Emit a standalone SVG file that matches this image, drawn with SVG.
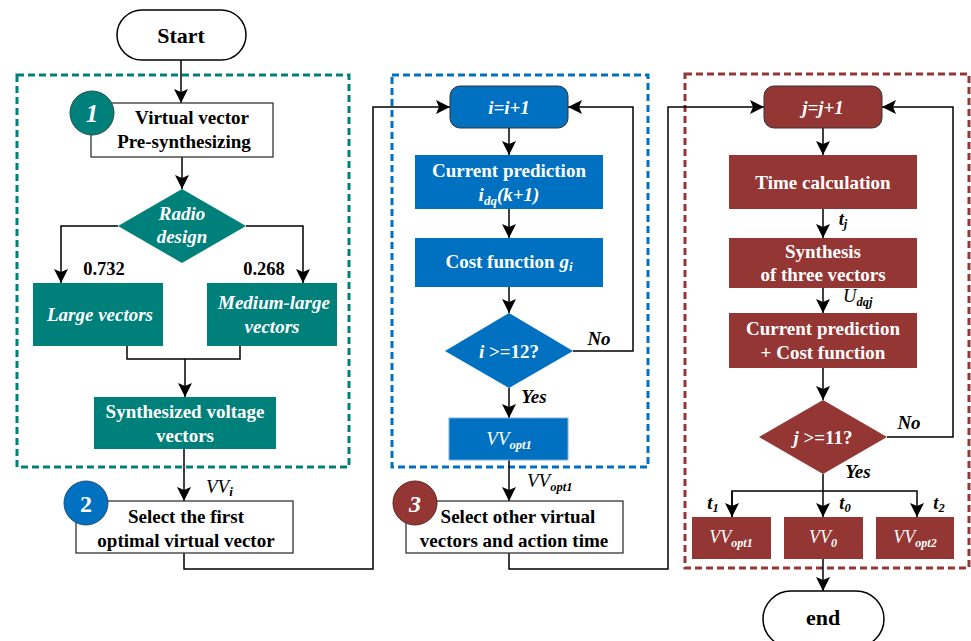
<svg xmlns="http://www.w3.org/2000/svg" width="971" height="641" viewBox="0 0 971 641">
<defs>
<marker id="ah" markerUnits="userSpaceOnUse" markerWidth="16" markerHeight="16" refX="14" refY="7" orient="auto">
<path d="M0,0 L14,7 L0,14 L3,7 Z" fill="#000"/>
</marker>
<style>
text{font-family:"Liberation Serif","Times New Roman",serif;font-weight:bold;text-anchor:middle}
.w{fill:#fff}
.k{fill:#000}
.it{font-style:italic}
.nb{font-weight:normal}
.teal{fill:#00807A}
.blue{fill:#0070C0}
.red{fill:#943634}
.wb{fill:#fff;stroke:#333;stroke-width:1.3}
.c{fill:none;stroke:#000;stroke-width:1.5}
.ca{fill:none;stroke:#000;stroke-width:1.5;marker-end:url(#ah)}
.dash{fill:none;stroke-width:3;stroke-dasharray:7,4}
</style>
</defs>

<g id="frames">
<rect x="17" y="75" width="332" height="392" class="dash" stroke="#00807A"/>
<rect x="392" y="75" width="256" height="392" class="dash" stroke="#0070C0"/>
<rect x="685" y="74" width="284" height="494" class="dash" stroke="#943634"/>
</g>

<g id="connectors">
<line x1="181" y1="60" x2="181" y2="103" class="ca"/>
<line x1="182" y1="157" x2="182" y2="189" class="ca"/>
<polyline points="118,226 61,226 61,283" class="ca"/>
<polyline points="246,226 303,226 303,283" class="ca"/>
<polyline points="127,346 127,359 240,359 240,346" class="c"/>
<line x1="185" y1="359" x2="185" y2="397" class="ca"/>
<line x1="184" y1="449" x2="184" y2="501" class="ca"/>
<polyline points="184,553 184,569 373,569 373,107 450,107" class="ca"/>
<line x1="509" y1="128" x2="509" y2="155" class="ca"/>
<line x1="509" y1="209" x2="509" y2="238" class="ca"/>
<line x1="509" y1="287" x2="509" y2="313" class="ca"/>
<polyline points="573,351 633,351 633,107 568,107" class="ca"/>
<line x1="509" y1="388" x2="509" y2="418" class="ca"/>
<line x1="509" y1="460" x2="509" y2="501" class="ca"/>
<polyline points="509,553 509,569 668,569 668,107 764,107" class="ca"/>
<line x1="823" y1="128" x2="823" y2="155" class="ca"/>
<line x1="823" y1="209" x2="823" y2="238" class="ca"/>
<line x1="823" y1="288" x2="823" y2="313" class="ca"/>
<line x1="823" y1="368" x2="823" y2="400" class="ca"/>
<polyline points="887,437 953,437 953,107 882,107" class="ca"/>
<line x1="823" y1="474" x2="823" y2="517" class="ca"/>
<polyline points="732,517 732,491 917,491 917,517" class="ca"/>
<line x1="732" y1="491" x2="732" y2="517" class="ca"/>
<line x1="823" y1="559" x2="823" y2="591" class="ca"/>
</g>

<g id="start">
<rect x="117" y="10" width="129" height="50" rx="25" fill="#fff" stroke="#000" stroke-width="1.5"/>
<text x="181" y="43" font-size="22" class="k">Start</text>
</g>

<g id="n1">
<rect x="91" y="103" width="182" height="54" class="wb"/>
<text x="192" y="124" font-size="19" class="k">Virtual vector</text>
<text x="184" y="148" font-size="19" class="k">Pre-synthesizing</text>
<circle cx="92" cy="113" r="22" class="teal" stroke="#2a4d4a" stroke-width="1"/>
<text x="92" y="122" font-size="25" class="w it">1</text>
</g>

<g id="radio">
<polygon points="182,189 246,226 182,263 118,226" class="teal"/>
<text x="182" y="220" font-size="19" class="w it">Radio</text>
<text x="182" y="243" font-size="19" class="w it">design</text>
</g>
<text x="104" y="275" font-size="18.5" class="k">0.732</text>
<text x="264" y="275" font-size="18.5" class="k">0.268</text>

<g id="large">
<rect x="33" y="283" width="130" height="63" class="teal"/>
<text x="100" y="321" font-size="19" class="w it">Large vectors</text>
</g>
<g id="medium">
<rect x="207" y="283" width="130" height="63" class="teal"/>
<text x="274" y="309" font-size="19" class="w it">Medium-large</text>
<text x="272" y="333" font-size="19" class="w it">vectors</text>
</g>
<g id="synth">
<rect x="94" y="397" width="182" height="52" class="teal"/>
<text x="185" y="418" font-size="19" class="w">Synthesized voltage</text>
<text x="185" y="442" font-size="19" class="w">vectors</text>
</g>
<text x="206" y="493" font-size="19" class="k it nb" style="text-anchor:start">VV<tspan font-size="13" dy="3" font-weight="bold">i</tspan></text>

<g id="n2">
<rect x="76" y="501" width="217" height="52" class="wb"/>
<text x="186" y="523" font-size="19" class="k">Select the first</text>
<text x="186" y="547" font-size="19" class="k">optimal virtual vector</text>
<circle cx="86" cy="503" r="22" class="blue" stroke="#24507a" stroke-width="1"/>
<text x="86" y="512" font-size="24" class="w">2</text>
</g>

<g id="iinc">
<rect x="450" y="86" width="118" height="42" rx="10" class="blue" stroke="#333" stroke-width="1"/>
<text x="509" y="114" font-size="19" class="w it">i=i+1</text>
</g>
<g id="curpred1">
<rect x="415" y="155" width="188" height="54" class="blue"/>
<text x="509" y="177" font-size="19" class="w">Current prediction</text>
<text x="509" y="201" font-size="19" class="w it">i<tspan font-size="13" dy="4">dq</tspan><tspan dy="-4">(k+1)</tspan></text>
</g>
<g id="cost1">
<rect x="415" y="238" width="188" height="49" class="blue"/>
<text x="509" y="268" font-size="19" class="w">Cost function <tspan class="it">g</tspan><tspan font-size="13" dy="3" class="it">i</tspan></text>
</g>
<g id="dec1">
<polygon points="509,313 573,351 509,388 445,351" class="blue"/>
<text x="509" y="358" font-size="19" class="w"><tspan class="it">i</tspan> &gt;=12?</text>
</g>
<text x="599" y="345" font-size="19" class="k it">No</text>
<text x="534" y="403" font-size="19" class="k it">Yes</text>
<g id="vvopt1a">
<rect x="449" y="418" width="119" height="42" class="blue" stroke="#7fb0dd" stroke-width="1"/>
<text x="509" y="445" font-size="19" class="w it nb">VV<tspan font-size="12.5" dy="4" font-weight="bold">opt1</tspan></text>
</g>
<text x="527" y="487" font-size="19" class="k it nb" style="text-anchor:start">VV<tspan font-size="12.5" dy="4" font-weight="bold">opt1</tspan></text>

<g id="n3">
<rect x="406" y="501" width="217" height="52" class="wb"/>
<text x="518" y="523" font-size="19" class="k">Select other virtual</text>
<text x="514" y="547" font-size="19" class="k">vectors and action time</text>
<circle cx="415" cy="503" r="22" class="red" stroke="#5a2523" stroke-width="1"/>
<text x="415" y="512" font-size="24" class="w it">3</text>
</g>

<g id="jinc">
<rect x="764" y="86" width="118" height="42" rx="10" class="red" stroke="#333" stroke-width="1"/>
<text x="823" y="114" font-size="19" class="w it">j=j+1</text>
</g>
<g id="timecalc">
<rect x="729" y="155" width="188" height="54" class="red"/>
<text x="823" y="189" font-size="19" class="w">Time calculation</text>
</g>
<text x="843" y="225" font-size="18.5" class="k it">t<tspan font-size="12.5" dy="3">j</tspan></text>
<g id="synth3">
<rect x="729" y="238" width="188" height="50" class="red"/>
<text x="823" y="258" font-size="19" class="w">Synthesis</text>
<text x="823" y="281" font-size="19" class="w">of three vectors</text>
</g>
<text x="843" y="302" font-size="18.5" class="k it nb" style="text-anchor:start">U<tspan font-size="12.5" dy="4" font-weight="bold">dqj</tspan></text>
<g id="curpred2">
<rect x="729" y="313" width="188" height="55" class="red"/>
<text x="823" y="335" font-size="19" class="w">Current prediction</text>
<text x="823" y="359" font-size="19" class="w">+ Cost function</text>
</g>
<g id="dec2">
<polygon points="823,400 887,437 823,474 759,437" class="red"/>
<text x="823" y="444" font-size="19" class="w"><tspan class="it">j</tspan> &gt;=11?</text>
</g>
<text x="909" y="429" font-size="19" class="k it">No</text>
<text x="858" y="478" font-size="19" class="k it">Yes</text>

<text x="713" y="509" font-size="18.5" class="k it">t<tspan font-size="12.5" dy="3">1</tspan></text>
<text x="845" y="509" font-size="18.5" class="k it">t<tspan font-size="12.5" dy="3">0</tspan></text>
<text x="939" y="509" font-size="18.5" class="k it">t<tspan font-size="12.5" dy="3">2</tspan></text>

<g id="vvopt1b">
<rect x="692" y="517" width="79" height="42" class="red"/>
<text x="731" y="543" font-size="18" class="w it nb">VV<tspan font-size="12" dy="4" font-weight="bold">opt1</tspan></text>
</g>
<g id="vv0">
<rect x="784" y="517" width="79" height="42" class="red"/>
<text x="823" y="543" font-size="18" class="w it nb">VV<tspan font-size="12" dy="4" font-weight="bold">0</tspan></text>
</g>
<g id="vvopt2">
<rect x="876" y="517" width="78" height="42" class="red"/>
<text x="915" y="543" font-size="18" class="w it nb">VV<tspan font-size="12" dy="4" font-weight="bold">opt2</tspan></text>
</g>

<g id="end">
<rect x="763" y="591" width="121" height="56" rx="28" fill="#fff" stroke="#000" stroke-width="1.5"/>
<text x="823" y="625" font-size="22" class="k">end</text>
</g>
</svg>
